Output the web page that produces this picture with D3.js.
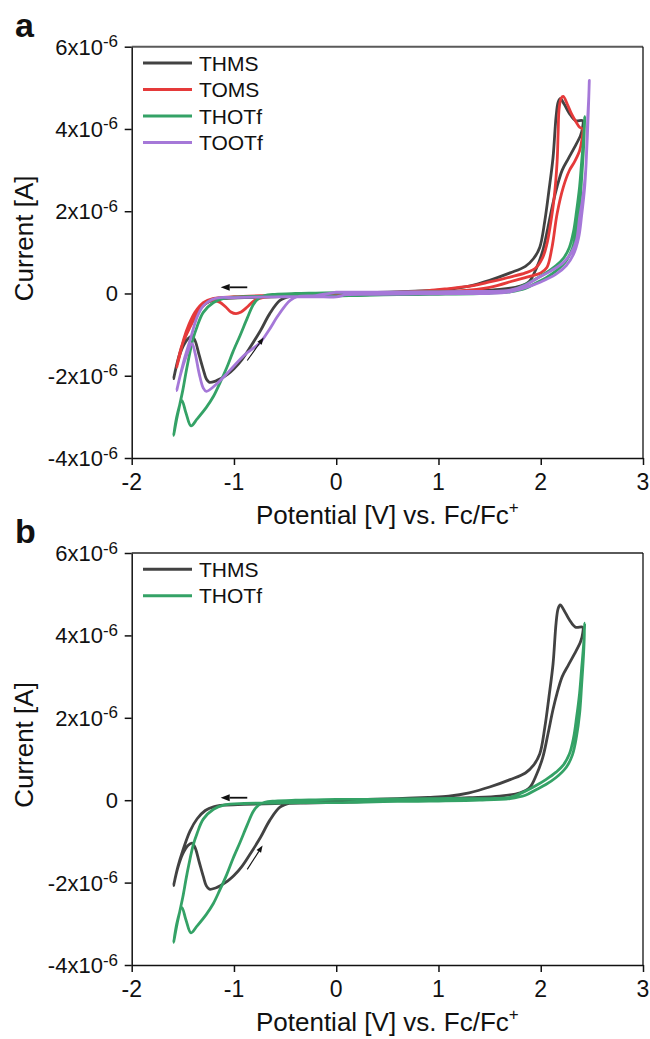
<!DOCTYPE html>
<html><head><meta charset="utf-8">
<script src="https://cdn.jsdelivr.net/npm/d3@7"></script>
<style>body{margin:0;background:#fff}svg{display:block}</style>
</head><body>
<svg id="c" width="650" height="1039"></svg>
<script>
// ---------- data (potential in V vs Fc/Fc+, current in units of 1e-6 A) ----------
const xTicks = [-2, -1, 0, 1, 2, 3];
const yTicks = [-4, -2, 0, 2, 4, 6];
const yTickLabels = [["-4", "-6"], ["-2", "-6"], ["0", ""], ["2", "-6"], ["4", "-6"], ["6", "-6"]];

const THMS = [[0.0,0.0],[0.3,0.02],[0.6,0.04],[0.9,0.07],[1.1,0.1],[1.3,0.18],[1.5,0.32],[1.7,0.5],[1.85,0.66],[1.93,0.85],[1.99,1.12],[2.04,1.77],[2.08,2.5],[2.12,3.3],[2.15,4.3],[2.17,4.65],[2.19,4.74],[2.23,4.6],[2.28,4.38],[2.34,4.2],[2.41,4.2],[2.41,4.05],
 [2.39,3.85],[2.33,3.55],[2.27,3.28],[2.21,3.0],[2.16,2.6],[2.12,2.2],[2.07,1.6],[2.02,1.04],[1.96,0.63],[1.89,0.3],[1.8,0.18],[1.6,0.1],[1.3,0.06],[1.0,0.03],[0.6,0.0],[0.2,-0.04],[0.0,-0.05],[-0.3,-0.07],[-0.6,-0.08],[-0.9,-0.1],[-1.1,-0.12],[-1.2,-0.16],[-1.28,-0.25],[-1.36,-0.45],[-1.43,-0.75],[-1.5,-1.22],[-1.55,-1.63],[-1.59,-2.07],
 [-1.55,-1.65],[-1.5,-1.3],[-1.45,-1.1],[-1.41,-1.04],[-1.38,-1.15],[-1.34,-1.5],[-1.3,-1.85],[-1.27,-2.08],[-1.24,-2.16],[-1.18,-2.13],[-1.13,-2.07],[-1.06,-1.96],[-1.0,-1.83],[-0.92,-1.6],[-0.84,-1.3],[-0.74,-0.9],[-0.65,-0.49],[-0.55,-0.17],[-0.45,-0.07],[-0.3,-0.04],[-0.15,-0.02],[0.0,0.0]];

const TOMS = [[0.0,0.0],[0.3,0.01],[0.6,0.03],[0.9,0.07],[1.1,0.12],[1.34,0.19],[1.5,0.28],[1.7,0.4],[1.85,0.5],[1.95,0.62],[2.02,0.88],[2.06,1.2],[2.09,1.6],[2.13,2.3],[2.16,3.2],[2.17,3.9],[2.18,4.5],[2.2,4.75],[2.22,4.79],[2.26,4.6],[2.3,4.37],[2.35,4.15],[2.38,4.04],[2.41,4.0],
 [2.4,3.7],[2.38,3.47],[2.33,3.2],[2.28,2.99],[2.22,2.58],[2.16,1.94],[2.11,1.12],[2.06,0.63],[2.0,0.5],[1.9,0.42],[1.75,0.32],[1.5,0.15],[1.2,0.06],[0.9,0.03],[0.5,0.0],[0.2,-0.02],[0.0,-0.05],[-0.3,-0.06],[-0.5,-0.06],[-0.7,-0.09],[-0.8,-0.17],[-0.87,-0.33],[-0.93,-0.45],[-0.98,-0.49],[-1.03,-0.45],[-1.08,-0.33],[-1.14,-0.21],[-1.22,-0.17],[-1.28,-0.25],[-1.33,-0.37],[-1.38,-0.58],[-1.43,-0.82],[-1.5,-1.2],[-1.53,-1.45],[-1.56,-1.8],
 [-1.53,-1.5],[-1.49,-1.1],[-1.44,-0.75],[-1.38,-0.45],[-1.3,-0.22],[-1.2,-0.12],[-1.0,-0.08],[-0.7,-0.05],[-0.4,-0.03],[0.0,0.0]];

const THOTf = [[0.0,0.02],[0.3,0.02],[0.7,0.03],[1.0,0.04],[1.3,0.04],[1.5,0.04],[1.7,0.07],[1.85,0.22],[1.95,0.35],[2.05,0.5],[2.15,0.68],[2.22,0.85],[2.28,1.12],[2.32,1.5],[2.35,2.0],[2.38,2.6],[2.4,3.2],[2.42,3.8],[2.43,4.3],
 [2.42,3.6],[2.4,2.8],[2.38,2.1],[2.35,1.55],[2.31,1.1],[2.25,0.8],[2.15,0.55],[2.05,0.38],[1.95,0.25],[1.85,0.12],[1.7,0.04],[1.4,0.0],[1.0,-0.02],[0.6,-0.03],[0.2,-0.05],[0.0,-0.06],[-0.3,-0.06],[-0.6,-0.07],[-0.9,-0.08],[-1.1,-0.12],[-1.2,-0.22],[-1.3,-0.46],[-1.36,-0.8],[-1.4,-1.1],[-1.46,-1.8],[-1.5,-2.35],[-1.53,-2.7],[-1.56,-3.05],[-1.59,-3.45],
 [-1.555,-2.95],[-1.51,-2.6],[-1.47,-2.9],[-1.42,-3.22],[-1.36,-3.05],[-1.27,-2.77],[-1.2,-2.5],[-1.14,-2.19],[-1.07,-1.8],[-1.01,-1.42],[-0.94,-1.02],[-0.87,-0.6],[-0.81,-0.27],[-0.76,-0.12],[-0.7,-0.05],[-0.6,-0.02],[-0.4,0.0],[-0.2,0.01],[0.0,0.02]];

const TOOTf = [[0.0,0.03],[0.3,0.03],[0.7,0.04],[1.0,0.04],[1.3,0.05],[1.5,0.05],[1.7,0.08],[1.85,0.2],[1.96,0.36],[2.1,0.55],[2.22,0.75],[2.3,1.0],[2.35,1.3],[2.38,1.85],[2.41,2.3],[2.44,3.0],[2.45,3.6],[2.46,4.3],[2.47,4.8],[2.475,5.18],
 [2.465,4.4],[2.45,3.5],[2.43,2.6],[2.4,1.9],[2.37,1.35],[2.32,0.95],[2.25,0.68],[2.15,0.47],[2.0,0.28],[1.85,0.14],[1.7,0.04],[1.5,0.0],[1.2,0.0],[0.8,-0.01],[0.4,-0.02],[0.1,-0.03],[0.0,-0.08],[-0.2,-0.08],[-0.5,-0.08],[-0.8,-0.09],[-1.0,-0.1],[-1.14,-0.1],[-1.22,-0.15],[-1.3,-0.3],[-1.36,-0.57],[-1.43,-1.14],[-1.48,-1.55],[-1.53,-2.04],[-1.56,-2.36],
 [-1.52,-1.95],[-1.47,-1.55],[-1.41,-1.22],[-1.38,-1.45],[-1.34,-1.95],[-1.3,-2.3],[-1.27,-2.38],[-1.17,-2.2],[-1.04,-1.87],[-0.9,-1.5],[-0.75,-1.21],[-0.66,-0.9],[-0.58,-0.58],[-0.5,-0.3],[-0.45,-0.17],[-0.38,-0.08],[-0.2,-0.05],[0.0,0.03]];

const seriesNamesA = ["THMS", "TOMS", "THOTf", "TOOTf"];
const seriesNamesB = ["THMS", "THOTf"];
const seriesData = {THMS, TOMS, THOTf, TOOTf};
const seriesColors = {THMS: "#424242", TOMS: "#e53a3a", THOTf: "#34a266", TOOTf: "#a578d8"};

// sweep-direction arrows (data coords)
const arrowsA = [{from: [-0.87, 0.15], to: [-1.13, 0.15], w: 1.8, head: 9}, {from: [-0.87, -1.63], to: [-0.71, -1.07], w: 1.1, head: 7}];
const arrowsB = [{from: [-0.87, 0.06], to: [-1.13, 0.06], w: 1.8, head: 9}, {from: [-0.87, -1.68], to: [-0.72, -1.1], w: 1.1, head: 7}];

// ---------- drawing ----------
const FONT = "'Liberation Sans', Arial, Helvetica, sans-serif";
const svg = d3.select("#c");
const L = 131.7, R = 643;

function panel(top, bottom, names, arrows, letter) {
  const x = d3.scaleLinear().domain([-2, 3]).range([L, R]);
  const y = d3.scaleLinear().domain([-4, 6]).range([bottom, top]);
  const g = svg.append("g");

  // data lines
  const line = d3.line().x(d => x(d[0])).y(d => y(d[1])).curve(d3.curveCatmullRom.alpha(0.5));
  names.forEach(n => {
    g.append("path").attr("d", line(seriesData[n])).attr("fill", "none")
      .attr("stroke", seriesColors[n]).attr("stroke-width", 2.8)
      .attr("stroke-linejoin", "round").attr("stroke-linecap", "round");
  });

  // frame
  g.append("line").attr("x1", L).attr("x2", R).attr("y1", top).attr("y2", top).attr("stroke", "#5a5a5a").attr("stroke-width", 2);
  g.append("line").attr("x1", R).attr("x2", R).attr("y1", top).attr("y2", bottom).attr("stroke", "#111").attr("stroke-width", 1.3);

  const ax = g.append("g").attr("transform", `translate(0,${bottom})`)
    .call(d3.axisBottom(x).tickValues(xTicks).tickSize(7).tickSizeOuter(0).tickFormat(""));
  const ay = g.append("g").attr("transform", `translate(${L},0)`)
    .call(d3.axisLeft(y).tickValues(yTicks).tickSize(7).tickSizeOuter(0).tickFormat(""));
  [ax, ay].forEach(a => { a.selectAll("path,line").attr("stroke", "#111").attr("stroke-width", 1.5); });

  // x tick labels
  g.selectAll(".xl").data(xTicks).enter().append("text")
    .attr("x", d => x(d)).attr("y", bottom + 32).attr("text-anchor", "middle")
    .attr("font-family", FONT).attr("font-size", 23).attr("fill", "#111").text(d => String(d));

  // y tick labels
  yTicks.forEach((v, i) => {
    const [m, e] = yTickLabels[i];
    const t = g.append("text").attr("x", 118).attr("y", y(v) + 8).attr("text-anchor", "end")
      .attr("font-family", FONT).attr("font-size", 22).attr("fill", "#111");
    if (e) {
      t.append("tspan").text(m + "x10");
      t.append("tspan").attr("font-size", 17).attr("dy", -7.5).text(e);
    } else {
      t.text(m);
    }
  });

  // axis titles
  const xt = g.append("text").attr("x", (L + R) / 2).attr("y", bottom + 66).attr("text-anchor", "middle")
    .attr("font-family", FONT).attr("font-size", 26).attr("fill", "#111");
  xt.append("tspan").text("Potential [V] vs. Fc/Fc");
  xt.append("tspan").attr("font-size", 17).attr("dy", -11).text("+");

  g.append("text").attr("transform", `translate(33,${(top + bottom) / 2 - 14}) rotate(-90)`)
    .attr("text-anchor", "middle").attr("font-family", FONT).attr("font-size", 26).attr("fill", "#111")
    .text("Current [A]");

  // panel letter
  g.append("text").attr("x", 15).attr("y", top - 10).attr("font-family", FONT).attr("font-weight", "bold")
    .attr("font-size", 34).attr("fill", "#111").text(letter);

  // legend
  names.forEach((n, i) => {
    const ly = top + 16.3 + i * 26.5;
    g.append("line").attr("x1", 143).attr("x2", 192).attr("y1", ly).attr("y2", ly)
      .attr("stroke", seriesColors[n]).attr("stroke-width", 3);
    g.append("text").attr("x", 199).attr("y", ly + 7.5).attr("font-family", FONT).attr("font-size", 21)
      .attr("fill", "#111").text(n);
  });

  // arrows
  arrows.forEach(a => {
    const x1 = x(a.from[0]), y1 = y(a.from[1]), x2 = x(a.to[0]), y2 = y(a.to[1]);
    const ang = Math.atan2(y2 - y1, x2 - x1);
    const h = a.head, hw = h * 0.38;
    const bx = x2 - h * Math.cos(ang), by = y2 - h * Math.sin(ang);
    g.append("line").attr("x1", x1).attr("y1", y1).attr("x2", bx).attr("y2", by)
      .attr("stroke", "#111").attr("stroke-width", a.w);
    const px = -Math.sin(ang) * hw, py = Math.cos(ang) * hw;
    g.append("path").attr("d", `M${x2},${y2}L${bx + px},${by + py}L${bx - px},${by - py}Z`).attr("fill", "#111");
  });
}

panel(46.7, 458, seriesNamesA, arrowsA, "a");
panel(553, 965, seriesNamesB, arrowsB, "b");
</script>
</body></html>
